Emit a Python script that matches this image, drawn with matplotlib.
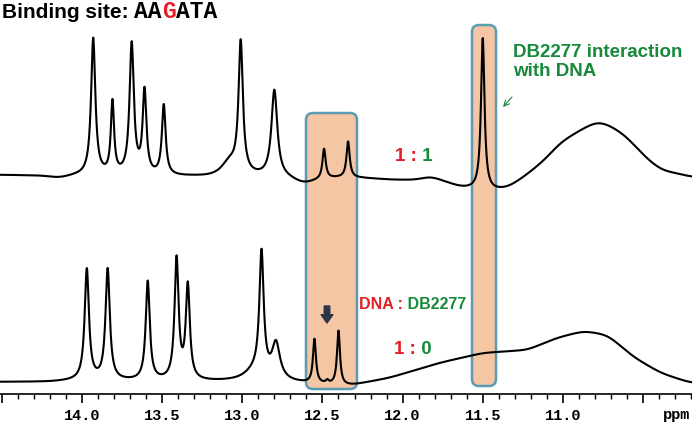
import numpy as np
import matplotlib
matplotlib.use('Agg')
import matplotlib.pyplot as plt
from matplotlib.patches import FancyBboxPatch
from matplotlib.ticker import MultipleLocator, FixedLocator, FixedFormatter

# ---- data ----
# peak lists: position (ppm), height (px above baseline), half width (ppm)
top_peak_ppm = [13.93, 13.81, 13.69, 13.61, 13.49, 13.08, 13.01, 12.80, 12.49, 12.34, 11.50]
top_peak_height = [137, 72, 131, 83, 70, 14, 131, 87, 30, 36, 152]
top_peak_hwhm = [0.016, 0.012, 0.016, 0.014, 0.014, 0.06, 0.016, 0.022, 0.012, 0.012, 0.013]

bot_peak_ppm = [13.97, 13.84, 13.59, 13.41, 13.34, 12.92, 12.88, 12.79, 12.55, 12.47, 12.40]
bot_peak_height = [111, 111, 99, 121, 94, 10, 122, 36, 44, 3, 54]
bot_peak_hwhm = [0.016, 0.016, 0.015, 0.015, 0.015, 0.08, 0.016, 0.03, 0.011, 0.01, 0.011]

# baseline anchor points (ppm, px)
top_base_ppm = [14.51, 14.25, 14.14, 14.05, 13.30, 13.20, 12.95, 12.70, 12.62, 12.55, 12.42,
                12.28, 12.05, 11.90, 11.83, 11.75, 11.63, 11.55, 11.45, 11.34, 11.21, 11.10,
                11.02, 10.89, 10.78, 10.69, 10.60, 10.50, 10.39, 10.27, 10.20]
top_base_val = [0, -1, -4, -1, -2, -3, -2, -4, -11, -6, -3,
                -3, -5, -5, -1, -6, -13, -14, -16, -13, 2, 17,
                32, 45, 54, 48, 38, 20, 5, 1, -2]

bot_base_ppm = [14.51, 14.20, 14.05, 13.10, 12.70, 12.60, 12.33, 12.08, 11.77, 11.50, 11.22,
                11.04, 10.87, 10.72, 10.56, 10.39, 10.20]
bot_base_val = [0, 0, 1, 0, -1, -2, -4, 4, 19, 29, 32,
                44, 51, 47, 25, 9, -1]

tick_major = [10.5, 11.0, 11.5, 12.0, 12.5, 13.0, 13.5, 14.0, 14.5]
tick_labels = ['', '11.0', '11.5', '12.0', '12.5', '13.0', '13.5', '14.0', '']

RED = '#E41E26'
GREEN = '#17893A'
BOX_FILL = '#F5C6A3'
BOX_EDGE = '#5A9BB3'


def spectrum(ppm, peaks, heights, widths, base_ppm, base_val):
    base = np.interp(ppm, base_ppm[::-1], base_val[::-1])
    # soften the corners of the hand-read baseline
    step = abs(ppm[1] - ppm[0])
    k = np.arange(-120, 121) * step
    kern = np.exp(-0.5 * (k / 0.04) ** 2)
    kern /= kern.sum()
    padded = np.concatenate([np.full(120, base[0]), base, np.full(120, base[-1])])
    y = np.convolve(padded, kern, mode='valid')
    for p, h, w in zip(peaks, heights, widths):
        y = y + h / (1 + ((ppm - p) / w) ** 2)
    return y


# pixel helpers (figure is 692 x 425 px, x axis: 14.0 ppm at px 82, 160.3 px/ppm)
def px2ppm(px):
    return 14.0 - (px - 82) / 160.3


def py2y(py):
    return 382 - py


fig = plt.figure(figsize=(6.92, 4.25), dpi=100)
ax = fig.add_axes([0, 0, 1, 1])
ax.set_xlim(px2ppm(0), px2ppm(692))
ax.set_ylim(py2y(425), py2y(0))

ppm = np.linspace(14.51, 10.19, 3000)
top = spectrum(ppm, top_peak_ppm, top_peak_height, top_peak_hwhm, top_base_ppm, top_base_val)
bot = spectrum(ppm, bot_peak_ppm, bot_peak_height, bot_peak_hwhm, bot_base_ppm, bot_base_val)

ax.plot(ppm, top + py2y(175), color='black', lw=1.5, zorder=3)
ax.plot(ppm, bot, color='black', lw=1.5, zorder=3)

# highlight boxes
ppm_per_px = 1 / 160.3
for x0, x1, ytop, ybot in [(306, 357, 113, 389), (472, 496, 25, 386)]:
    lo, hi = px2ppm(x1), px2ppm(x0)
    box = FancyBboxPatch((lo, py2y(ybot)), hi - lo, ybot - ytop,
                         boxstyle='round,pad=0,rounding_size=%f' % (7 * ppm_per_px),
                         mutation_aspect=1 / ppm_per_px,
                         facecolor=BOX_FILL, edgecolor=BOX_EDGE, lw=1.8, zorder=1)
    ax.add_patch(box)

# x axis, NMR style
for s in ['top', 'left', 'right']:
    ax.spines[s].set_visible(False)
ax.spines['bottom'].set_position(('data', py2y(394)))
ax.spines['bottom'].set_linewidth(1.2)
ax.set_yticks([])
ax.xaxis.set_major_locator(FixedLocator(tick_major))
ax.xaxis.set_major_formatter(FixedFormatter(tick_labels))
ax.xaxis.set_minor_locator(MultipleLocator(0.1))
ax.tick_params(axis='x', which='major', direction='out', length=6.5, width=1.2, pad=4,
               labelsize=11)
ax.tick_params(axis='x', which='minor', direction='out', length=3.5, width=1.0)
for lab in ax.get_xticklabels():
    lab.set_fontfamily('Liberation Mono')
    lab.set_fontweight('bold')
ax.text(px2ppm(677), py2y(415), 'ppm', family='Liberation Mono', weight='bold',
        fontsize=11, ha='center', va='center')


def colored_text(parts, x_px, y_px):
    """Draw text pieces side by side on one baseline, position in pixels from top-left."""
    renderer = fig.canvas.get_renderer()
    x = x_px
    for s, color, family, size in parts:
        t = fig.text(x / 692, 1 - y_px / 425, s, color=color, family=family,
                     fontsize=size, weight='bold', va='baseline', ha='left')
        bb = t.get_window_extent(renderer)
        x = bb.x1


SANS = 'Liberation Sans'
MONO = 'Liberation Mono'
colored_text([('Binding site: ', 'black', SANS, 15),
              ('AA', 'black', MONO, 16.5), ('G', RED, MONO, 16.5), ('ATA', 'black', MONO, 16.5)],
             2, 18)
colored_text([('1 :', RED, SANS, 13.5), (' 1', GREEN, SANS, 13.5)], 395, 161)
colored_text([('DNA :', RED, SANS, 11.5), (' DB2277', GREEN, SANS, 11.5)], 359, 309)
colored_text([('1 :', RED, SANS, 13.5), (' 0', GREEN, SANS, 13.5)], 394, 354)

fig.text(513 / 692, 1 - 62 / 425, 'DB2277 interaction\nwith DNA', color=GREEN,
         family=SANS, weight='bold', fontsize=13.5, va='center', ha='left',
         linespacing=1.15)

# small green pointer arrow
ax.annotate('', xy=(px2ppm(503), py2y(107)), xytext=(px2ppm(512), py2y(97)),
            arrowprops=dict(arrowstyle='->,head_length=0.4,head_width=0.2', color=GREEN,
                            lw=0.8, shrinkA=0, shrinkB=0))

# block arrow over the 12.47 ppm position
ax.annotate('', xy=(px2ppm(327), py2y(323)), xytext=(px2ppm(327), py2y(306)),
            arrowprops=dict(arrowstyle='simple,head_length=0.6,head_width=0.85,tail_width=0.4',
                            color='#2B3747', mutation_scale=10, shrinkA=0, shrinkB=0),
            zorder=4)

fig.savefig('out.png', dpi=100)
